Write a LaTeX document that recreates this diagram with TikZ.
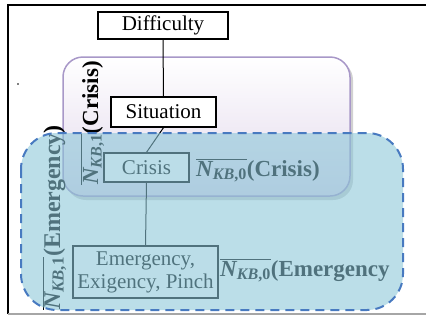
\documentclass[tikz,border=0pt]{standalone}
\usepackage{fontspec}
\setmainfont{Liberation Serif}
\definecolor{lav}{RGB}{168,152,200}
\definecolor{lavfill}{RGB}{226,216,236}
\definecolor{cyanfill}{RGB}{138,198,216}
\definecolor{dashblue}{RGB}{72,122,192}
\newcommand{\nkb}[1]{$\overline{\hbox{\bfseries\itshape N\textsubscript{KB\upshape,#1}}}$}
\tikzset{
  termbox/.style={draw=black, fill=white, line width=1.3pt, inner sep=0pt,
    font=\fontsize{21}{23}\selectfont, align=center},
  link/.style={draw=black, line width=1pt},
  setlabel/.style={inner sep=0pt, anchor=base west, font=\fontsize{23}{25}\selectfont\bfseries}
}
\begin{document}
\begin{tikzpicture}[x=1pt, y=-1pt]
\useasboundingbox (0,0) rectangle (426,325);
% page frame
\draw[line width=1.5pt] (426,5) -- (8,5) -- (8,314);
\draw[line width=1.2pt, black!35] (8,314) -- (426,314);
\fill (18,84) circle (0.9);

% lavender set with soft shadow
\fill[black, opacity=0.18, rounded corners=20pt] (66,60) rectangle (353,200);
\shade[top color=white, bottom color=lavfill, rounded corners=20pt] (63,57) rectangle (350,196);
\draw[lav, line width=1.5pt, rounded corners=20pt] (63,57) rectangle (350,196);

% terms
\node[termbox, minimum width=130pt, minimum height=27pt] (dif) at (163,25.5) {Difficulty};
\node[termbox, minimum width=105pt, minimum height=30pt] (sit) at (163.5,112) {Situation};
\node[termbox, minimum width=85pt, minimum height=29pt] (cri) at (146.5,167.5) {Crisis};
\node[termbox, minimum width=145pt, minimum height=52pt] (eme) at (145.5,272) {Emergency,\\Exigency, Pinch};

\draw[link] (dif.south) -- (sit.north);
\draw[link] (sit.south) -- (cri.north);
\draw[link] (cri.south) -- (eme.north);

% set labels
\node[setlabel] (lc0) at (196,176) {\nkb{0}(Crisis)};
\node[setlabel] (le0) at (220,276) {\nkb{0}(Emergency};
\node[setlabel, rotate=90] (lc1) at (98,185) {\nkb{1}(Crisis)};
\node[setlabel, rotate=90, font=\fontsize{24}{26}\selectfont\bfseries] (le1) at (60,310) {\nkb{1}(Emergency)};

% translucent cyan set on top
\fill[cyanfill, opacity=0.58, rounded corners=36pt] (21,133) rectangle (403,310);
\draw[dashblue, line width=2pt, dash pattern=on 9pt off 6pt, rounded corners=36pt] (21,133) rectangle (403,310);
\end{tikzpicture}
\end{document}
